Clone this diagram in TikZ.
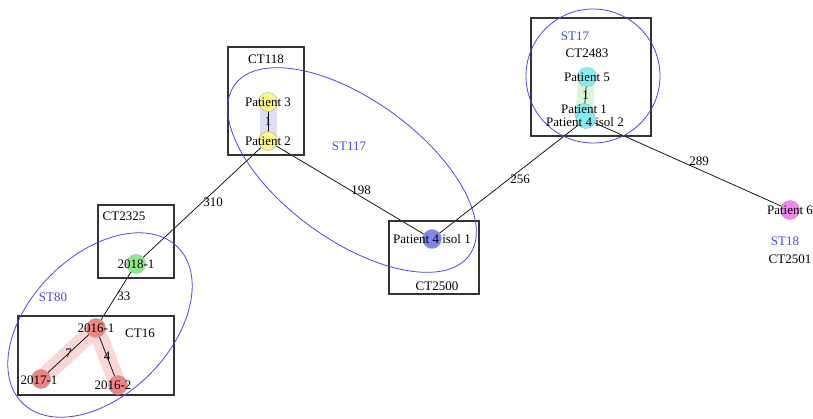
\documentclass[tikz,border=0pt]{standalone}
\usepackage{fontspec}
\setmainfont{Liberation Serif}
\usetikzlibrary{backgrounds}

\definecolor{verde}{RGB}{140,236,140}
\definecolor{vermelho}{RGB}{240,130,130}
\definecolor{amarelo}{RGB}{250,248,130}
\definecolor{azul}{RGB}{132,132,240}
\definecolor{ciano}{RGB}{130,240,240}
\definecolor{magenta}{RGB}{240,132,240}
\definecolor{rosa}{RGB}{250,214,214}
\definecolor{lavanda}{RGB}{222,222,246}
\definecolor{verdeclaro}{RGB}{216,246,216}
\definecolor{stazul}{RGB}{70,70,235}

\begin{document}
\begin{tikzpicture}[x=1pt, y=-1pt, font=\fontsize{13}{15}\selectfont]
        \tikzstyle{amostra}=[circle, minimum size=19pt, inner sep=0pt, draw=black!35, line width=0.4pt]
        \tikzstyle{caixa}=[draw=black!80, line width=1.1pt]
        \tikzstyle{grupo}=[draw=stazul, line width=0.8pt]
        \tikzstyle{rotulost}=[text=stazul]
        \tikzstyle{peso}=[inner sep=1pt]
        \tikzstyle{ligacao}=[draw=black, line width=0.7pt]
        \tikzstyle{realce}=[line width=17pt, line cap=round, line join=round]

        \useasboundingbox (0,0) rectangle (813,418);

        % caixas dos CT
        \draw[caixa] (98,205) rectangle (174,278);
        \draw[caixa] (18,316) rectangle (174,395);
        \draw[caixa] (228,47) rectangle (304,155);
        \draw[caixa] (389,221) rectangle (479,294);
        \draw[caixa] (531,18) rectangle (651,136);

        % grupos ST
        \draw[grupo, rotate around={45:(100,325)}] (100,325) ellipse [x radius=110, y radius=70];
        \draw[grupo, rotate around={-36:(352,170)}] (352,170) ellipse [x radius=145, y radius=70];
        \draw[grupo] (593,76) circle [radius=67];

        % isolados
        \node[amostra, fill=verde] (i2018a) at (136,264) {};
        \node[amostra, fill=vermelho] (i2016a) at (96,328) {};
        \node[amostra, fill=vermelho] (i2017a) at (41,379) {};
        \node[amostra, fill=vermelho] (i2016b) at (118,385) {};
        \node[amostra, fill=amarelo] (p3) at (268,102) {};
        \node[amostra, fill=amarelo] (p2) at (268,141) {};
        \node[amostra, fill=azul] (p4a) at (432,239) {};
        \node[amostra, fill=ciano] (p5) at (587,77) {};
        \node[amostra, fill=ciano] (p1) at (584,113) {};
        \node[amostra, fill=ciano] (p4b) at (586,119) {};
        \node[amostra, fill=magenta] (p6) at (790,210) {};

        \node (i2018at) at (i2018a) {2018-1};
        \node (i2016at) at (i2016a) {2016-1};
        \node (i2017at) at (39,380) {2017-1};
        \node (i2016bt) at (113,385) {2016-2};
        \node (p3t) at (p3) {Patient 3};
        \node (p2t) at (p2) {Patient 2};
        \node (p4at) at (p4a) {Patient 4 isol 1};
        \node (p5t) at (p5) {Patient 5};
        \node (p1t) at (584,109) {Patient 1};
        \node (p4bt) at (585,122) {Patient 4 isol 2};
        \node (p6t) at (p6) {Patient 6};

        % nomes
        \node (ct2325) at (124,216) {CT2325};
        \node (ct16) at (140,333) {CT16};
        \node (ct118) at (266,59) {CT118};
        \node (ct2500) at (437,286) {CT2500};
        \node (ct2483) at (587,53) {CT2483};
        \node (ct2501) at (790,259) {CT2501};
        \node[rotulost] (st80) at (53,297) {ST80};
        \node[rotulost] (st117) at (349,146) {ST117};
        \node[rotulost] (st17) at (575,36) {ST17};
        \node[rotulost] (st18) at (785,241) {ST18};

        \begin{pgfonlayer}{background}
        \draw[realce, rosa] (i2017a.center) -- (i2016a.center) -- (i2016b.center);
        \draw[realce, lavanda] (p3.center) -- (p2.center);
        \draw[realce, verdeclaro] (p5.center) -- (p1.center);

        \draw[ligacao] (i2018a.center) -- node[peso, right] {310} (p2.center);
        \draw[ligacao] (i2018a.center) -- node[peso, right] {33} (i2016a.center);
        \draw[ligacao] (i2016a.center) -- node[peso] {7} (i2017a.center);
        \draw[ligacao] (i2016a.center) -- node[peso] {4} (i2016b.center);
        \draw[ligacao] (p3.center) -- node[peso] {1} (p2.center);
        \draw[ligacao] (p2.center) -- node[peso, right] {198} (p4a.center);
        \draw[ligacao] (p4a.center) -- node[peso, right] {256} (p4b.center);
        \draw[ligacao] (p5.center) -- node[peso] {1} (p1.center);
        \draw[ligacao] (p4b.center) -- node[peso, right, yshift=3pt] {289} (p6.center);
        \end{pgfonlayer}
      \end{tikzpicture}
\end{document}
